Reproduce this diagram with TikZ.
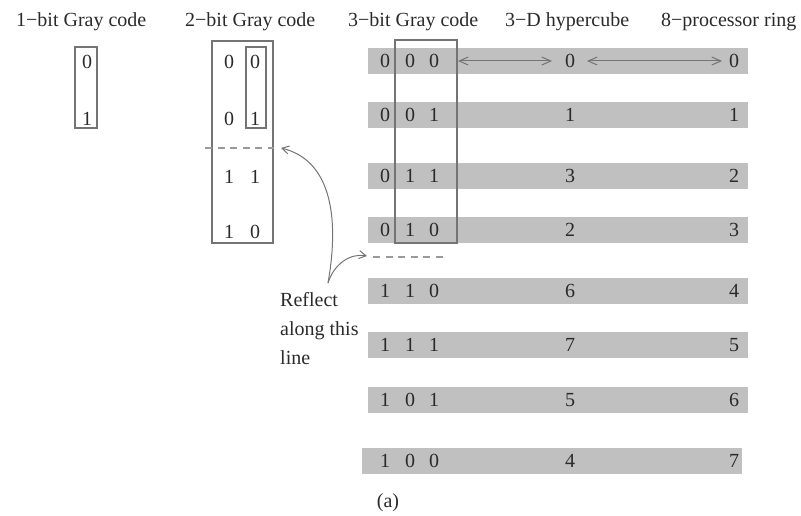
\documentclass[tikz,border=0pt]{standalone}
\usepackage{fontspec}
\setmainfont{Liberation Serif}
\usetikzlibrary{arrows.meta}
\definecolor{txt}{HTML}{2A2A2A}
\definecolor{barc}{HTML}{C0C0C0}
\definecolor{frame}{HTML}{747474}
\definecolor{dashc}{HTML}{9A9A9A}
\begin{document}
\begin{tikzpicture}[x=1pt,y=-1pt,
  lbl/.style={font=\fontsize{20}{24}\selectfont, text=txt, inner sep=0pt},
  title/.style={lbl, anchor=base west},
  digit/.style={lbl, anchor=center},
  barrect/.style={fill=barc, draw=none},
  frm/.style={draw=frame, line width=1.1pt},
  refl/.style={draw=dashc, line width=1.2pt, dash pattern=on 7pt off 5.5pt},
  link/.style={draw=frame, line width=1pt, {Straight Barb[length=9pt,width=8pt]}-{Straight Barb[length=9pt,width=8pt]}},
  curvearrow/.style={draw=frame, line width=1pt, -{Straight Barb[length=7pt,width=8pt]}}
]
\useasboundingbox (0,0) rectangle (801,516);

% titles
\node[title] (t1) at (16,27) {1−bit Gray code};
\node[title] (t2) at (185,27) {2−bit Gray code};
\node[title] (t3) at (348,27) {3−bit Gray code};
\node[title] (t4) at (505,27) {3−D hypercube};
\node[title] (t5) at (661,27) {8−processor ring};

% 1-bit code
\node[digit] (o1) at (87,62) {0};
\node[digit] (o2) at (87,119) {1};
\path[frm] (75,47) rectangle (97,128);

% 2-bit code
\node[digit] (w1a) at (229,62) {0};  \node[digit] (w1b) at (255,62) {0};
\node[digit] (w2a) at (229,119) {0}; \node[digit] (w2b) at (255,119) {1};
\node[digit] (w3a) at (229,177) {1}; \node[digit] (w3b) at (255,177) {1};
\node[digit] (w4a) at (229,232) {1}; \node[digit] (w4b) at (255,232) {0};
\path[frm] (212,41) rectangle (273,243);
\path[frm] (246,47) rectangle (266,128);
\coordinate (m1a) at (205,148);
\coordinate (m1b) at (274,148);
\path[refl] (m1a) -- (m1b);

% 3-bit rows: bars
\path[barrect] (368,48) rectangle (748,74);
\path[barrect] (368,102) rectangle (748,128);
\path[barrect] (368,163) rectangle (748,189);
\path[barrect] (368,217) rectangle (748,243);
\path[barrect] (368,278) rectangle (748,304);
\path[barrect] (368,332) rectangle (748,358);
\path[barrect] (368,387) rectangle (748,413);
\path[barrect] (362,448) rectangle (742,474);

% 3-bit rows: digits
\foreach \i/\y/\a/\b/\c/\h/\r in {1/61/0/0/0/0/0, 2/115/0/0/1/1/1, 3/176/0/1/1/3/2, 4/230/0/1/0/2/3,
  5/291/1/1/0/6/4, 6/345/1/1/1/7/5, 7/400/1/0/1/5/6, 8/461/1/0/0/4/7} {
  \node[digit] (g\i a) at (385,\y) {\a};
  \node[digit] (g\i b) at (410,\y) {\b};
  \node[digit] (g\i c) at (434,\y) {\c};
  \node[digit] (h\i) at (570,\y) {\h};
  \node[digit] (r\i) at (734,\y) {\r};
}
\path[frm] (395,40) rectangle (457,243);
\coordinate (m2a) at (373,257);
\coordinate (m2b) at (448,257);
\path[refl] (m2a) -- (m2b);

% correspondence arrows
\coordinate (e1) at (458,61);
\coordinate (e2) at (552,61);
\coordinate (e3) at (587,61);
\coordinate (e4) at (722,61);
\path[link] (e1) -- (e2);
\path[link] (e3) -- (e4);

% reflect label and curved arrows
\node[lbl, anchor=north west, align=left, font=\fontsize{20}{29}\selectfont] (rf) at (280,292) {Reflect\\along this\\line};
\coordinate (src) at (328,283);
\coordinate (d1) at (281,148);
\coordinate (d2) at (367,256);
\path[curvearrow] (src) .. controls (340,215) and (330,160) .. (d1);
\path[curvearrow] (src) .. controls (334,264) and (350,253) .. (d2);

\node[lbl] (cap) at (388,503) {(a)};
\end{tikzpicture}
\end{document}
